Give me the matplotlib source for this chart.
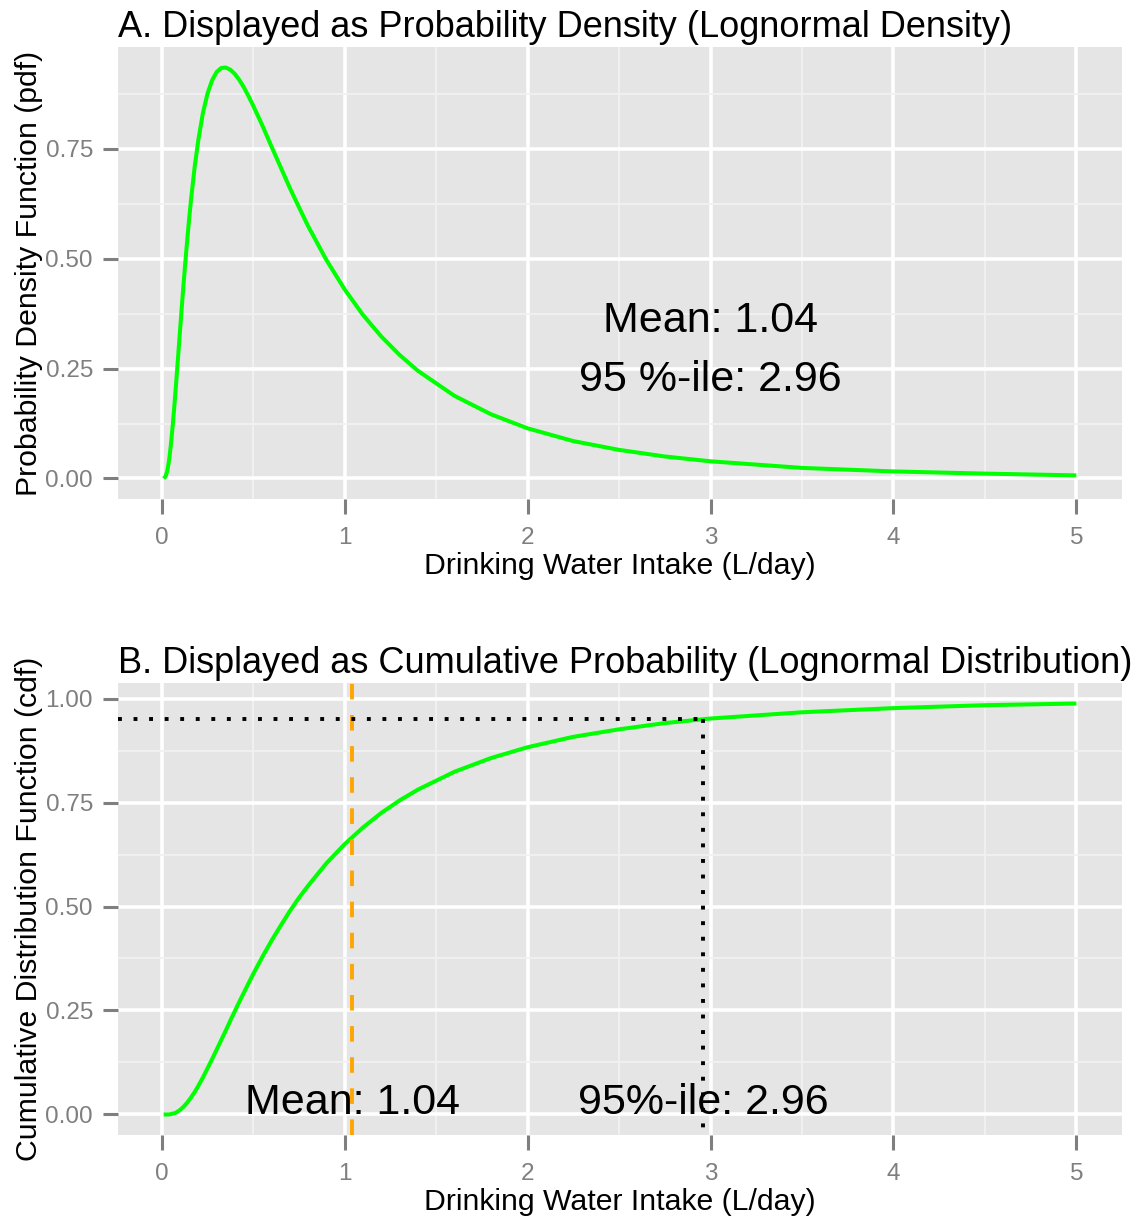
import numpy as np
import matplotlib
matplotlib.use("Agg")
import matplotlib.pyplot as plt

plt.rcParams["font.family"] = ["Liberation Sans", "DejaVu Sans"]

# values (lognormal, mean 1.04, 95th pct 2.96)
intake = [0.01, 0.02, 0.03, 0.04, 0.05, 0.06, 0.07, 0.08, 0.09, 0.1,
          0.11, 0.12, 0.13, 0.14, 0.15, 0.16, 0.18, 0.2, 0.225, 0.25,
          0.275, 0.3, 0.325, 0.35, 0.375, 0.4, 0.425, 0.45, 0.475, 0.5,
          0.55, 0.6, 0.65, 0.7, 0.75, 0.8, 0.9, 1.0, 1.1, 1.2,
          1.3, 1.4, 1.6, 1.8, 2.0, 2.25, 2.5, 2.75, 3.0, 3.5,
          4.0, 4.5, 5.0]
pdf_vals = [0.000, 0.004, 0.017, 0.042, 0.078, 0.122, 0.172, 0.226, 0.282, 0.339,
            0.394, 0.448, 0.499, 0.547, 0.593, 0.635, 0.710, 0.771, 0.832, 0.876,
            0.906, 0.925, 0.934, 0.935, 0.930, 0.920, 0.906, 0.889, 0.869, 0.848,
            0.803, 0.755, 0.708, 0.661, 0.617, 0.574, 0.497, 0.430, 0.372, 0.323,
            0.281, 0.245, 0.188, 0.146, 0.114, 0.085, 0.065, 0.050, 0.039, 0.024,
            0.016, 0.011, 0.007]
cdf_vals = [0.000, 0.000, 0.000, 0.000, 0.001, 0.002, 0.003, 0.005, 0.008, 0.011,
            0.015, 0.019, 0.024, 0.029, 0.035, 0.041, 0.054, 0.069, 0.089, 0.111,
            0.133, 0.156, 0.179, 0.202, 0.226, 0.249, 0.272, 0.294, 0.316, 0.338,
            0.379, 0.418, 0.454, 0.489, 0.521, 0.550, 0.604, 0.650, 0.690, 0.725,
            0.755, 0.781, 0.824, 0.857, 0.883, 0.908, 0.926, 0.941, 0.952, 0.967,
            0.977, 0.984, 0.988]

mean_val = 1.04
p95_val = 2.96
p95_level = 0.95

x_ticks = [0, 1, 2, 3, 4, 5]
pdf_ticks = [0.0, 0.25, 0.5, 0.75]
cdf_ticks = [0.0, 0.25, 0.5, 0.75, 1.0]

W, H = 1143, 1222
fig = plt.figure(figsize=(W / 100, H / 100), dpi=100)


def gg_axes(rect, yticks, ylim):
    ax = fig.add_axes(rect)
    ax.set_facecolor("#E5E5E5")
    for s in ax.spines.values():
        s.set_visible(False)
    xmin, xmax = min(intake), max(intake)
    pad = (xmax - xmin) * 0.05
    xlim = (xmin - pad, xmax + pad)
    ax.set_xticks(x_ticks)
    ax.set_xticklabels([str(t) for t in x_ticks])
    ax.set_yticks(yticks)
    ax.set_yticklabels(["%.2f" % t for t in yticks])
    ax.set_xticks([t + 0.5 for t in x_ticks[:-1]], minor=True)
    step = yticks[1] - yticks[0]
    minor_y = [t + step / 2 for t in yticks if t + step / 2 < ylim[1]]
    ax.set_yticks(minor_y, minor=True)
    # limits after the ticks, otherwise out-of-range ticks stretch the view
    ax.set_xlim(*xlim)
    ax.set_ylim(*ylim)
    ax.grid(True, which="major", color="white", linewidth=2.6)
    ax.grid(True, which="minor", color="#F2F2F2", linewidth=1.3)
    ax.set_axisbelow(True)
    ax.tick_params(which="major", length=11, width=2.2, color="#7F7F7F",
                   labelcolor="#7F7F7F", labelsize=17.5)
    ax.tick_params(axis="x", which="major", pad=9)
    ax.tick_params(axis="y", which="major", pad=7)
    ax.tick_params(which="minor", length=0)
    ax.set_xlabel("Drinking Water Intake (L/day)", fontsize=21.8, labelpad=2)
    return ax


def ylim_for(vals):
    lo, hi = min(vals), max(vals)
    pad = (hi - lo) * 0.05
    return (lo - pad, hi + pad)


# A: density
ax1 = gg_axes([118 / W, 1 - 499 / H, 1004 / W, 452 / H], pdf_ticks, ylim_for(pdf_vals))
ax1.plot(intake, pdf_vals, color="#00FF00", linewidth=2.9, solid_capstyle="butt")
ax1.text(3.0, 0.334, "Mean: %.2f" % mean_val, fontsize=31, ha="center", va="baseline")
ax1.text(3.0, 0.198, "95 %%-ile: %.2f" % p95_val, fontsize=31, ha="center", va="baseline")
ax1.set_ylabel("Probability Density Function (pdf)", fontsize=21.8, labelpad=2)
fig.text(118 / W, 1 - 37 / H, "A. Displayed as Probability Density (Lognormal Density)",
         fontsize=26, ha="left", va="baseline")

# B: cumulative
ylim2 = ylim_for(cdf_vals + [0.0])
ax2 = gg_axes([118 / W, 1 - 1135 / H, 1004 / W, 452 / H], cdf_ticks, ylim2)
ax2.plot(intake, cdf_vals, color="#00FF00", linewidth=2.9, solid_capstyle="butt")
ax2.axvline(mean_val, color="#FFA500", linewidth=2.8, linestyle=(0, (4, 4)))
x_lo = ax2.get_xlim()[0]
ax2.plot([x_lo, p95_val], [p95_level, p95_level], color="black",
         linewidth=2.8, linestyle=(0, (1, 3)))
ax2.plot([p95_val, p95_val], [p95_level, ylim2[0]], color="black",
         linewidth=2.8, linestyle=(0, (1, 3)))
ax2.set_ylim(*ylim2)
ax2.text(mean_val, 0.0, "Mean: %.2f" % mean_val, fontsize=31, ha="center", va="baseline")
ax2.text(p95_val, 0.0, "95%%-ile: %.2f" % p95_val, fontsize=31, ha="center", va="baseline")
ax2.set_ylabel("Cumulative Distribution Function (cdf)", fontsize=21.8, labelpad=2)
fig.text(118 / W, 1 - 673 / H, "B. Displayed as Cumulative Probability (Lognormal Distribution)",
         fontsize=26, ha="left", va="baseline")

fig.savefig("out.png", dpi=100)
